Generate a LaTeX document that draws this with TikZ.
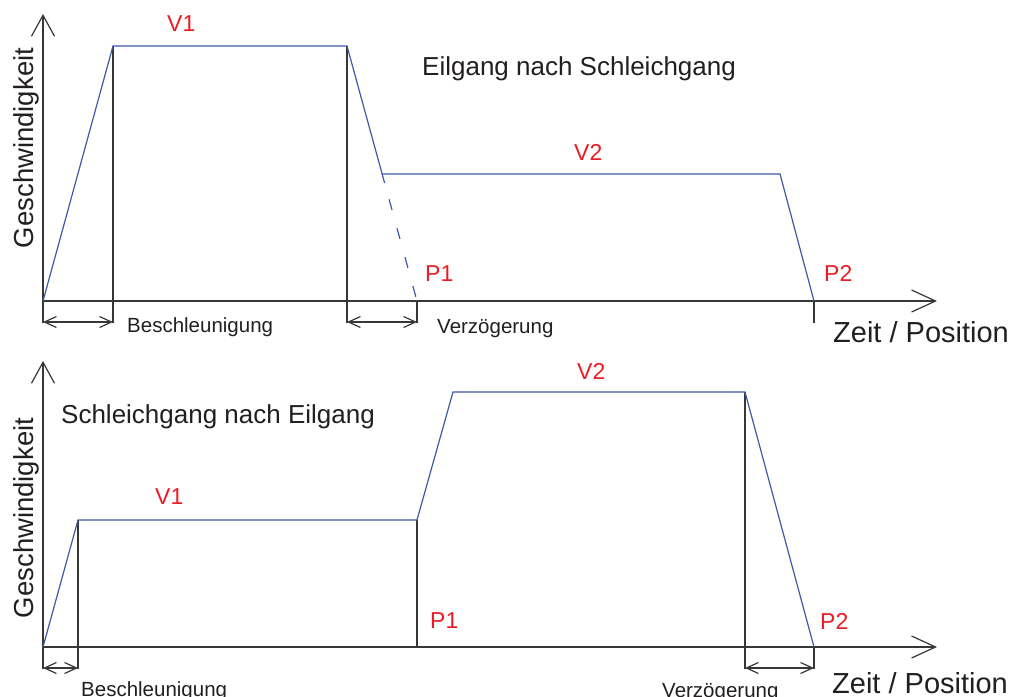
\documentclass[tikz,border=0pt]{standalone}
\usepackage{fontspec}
\setmainfont{Liberation Sans}
\usetikzlibrary{arrows.meta,calc}
\definecolor{curve}{RGB}{62,88,170}
\definecolor{lab}{RGB}{236,28,36}
\definecolor{axisc}{RGB}{55,55,55}
\definecolor{txt}{RGB}{35,31,32}
\tikzset{
  axisline/.style={draw=axisc,line width=1.2pt},
  yaxis/.style={axisline,-{Straight Barb[length=21pt,width=23pt,line width=1.2pt]}},
  xaxis/.style={axisline,-{Straight Barb[length=24pt,width=22pt,line width=1.2pt]}},
  dimarrow/.style={axisline,{Straight Barb[length=12pt,width=11pt,line width=1.2pt]}-{Straight Barb[length=12pt,width=11pt,line width=1.2pt]}},
  profile/.style={draw=curve,line width=1.2pt,line join=miter},
  redlab/.style={text=lab,inner sep=0pt,anchor=base west,font=\fontsize{23}{23}\selectfont},
  smalllab/.style={text=txt,inner sep=0pt,anchor=base west,font=\fontsize{20.5}{20.5}\selectfont},
  titlelab/.style={text=txt,inner sep=0pt,anchor=base west,font=\fontsize{26}{26}\selectfont},
  axislab/.style={text=txt,inner sep=0pt,anchor=base west,font=\fontsize{29}{29}\selectfont},
  ylab/.style={text=txt,inner sep=0pt,anchor=base,rotate=90,font=\fontsize{27.5}{27.5}\selectfont},
}
\begin{document}
\begin{tikzpicture}[x=1pt,y=-1pt]
\useasboundingbox[fill=white] (0,0) rectangle (1011,696);
% ---------------- top diagram ----------------
\coordinate (yb1) at (43,323);
\coordinate (yt1) at (43,14);
\coordinate (o1) at (43,301);
\coordinate (xe1) at (937,301);
\coordinate (a1) at (113,46);
\coordinate (b1) at (347,46);
\coordinate (d1) at (417,301);
\coordinate (s1) at ($(b1)!0.537!(d1)$);
\coordinate (c1) at ($(b1)!0.502!(d1)$);
\coordinate (e1) at (780,174);
\coordinate (f1) at (814,301);
\coordinate (a1b) at (113,323);
\coordinate (b1b) at (347,323);
\coordinate (d1b) at (417,323);
\coordinate (f1b) at (814,323);
\coordinate (m1l) at (43,322);
\coordinate (m1r) at (113,322);
\coordinate (n1l) at (347,322);
\coordinate (n1r) at (417,322);

\draw[yaxis] (yb1) -- (yt1);
\draw[xaxis] (o1) -- (xe1);
\draw[axisline] (a1) -- (a1b);
\draw[axisline] (b1) -- (b1b);
\draw[axisline] (d1) -- (d1b);
\draw[axisline] (f1) -- (f1b);
\draw[dimarrow] (m1l) -- (m1r);
\draw[dimarrow] (n1l) -- (n1r);
\draw[profile] (o1) -- (a1) -- (b1) -- (s1);
\draw[profile,dash pattern=on 11pt off 19pt,dash phase=13pt] (s1) -- (d1);
\draw[profile] (c1) -- (e1) -- (f1);

\node[redlab] (v1t) at (167,31) {V1};
\node[redlab] (v2t) at (574,160) {V2};
\node[redlab] (p1t) at (425,281) {P1};
\node[redlab] (p2t) at (824,281) {P2};
\node[titlelab] (tt) at (422,75) {Eilgang nach Schleichgang};
\node[smalllab] (bt) at (127,332) {Beschleunigung};
\node[smalllab] (vt) at (437,333) {Verzögerung};
\node[axislab] (zt) at (833,342) {Zeit / Position};
\node[ylab] (gt) at (33,148) {Geschwindigkeit};

% ---------------- bottom diagram ----------------
\coordinate (yb2) at (43,669);
\coordinate (yt2) at (43,361);
\coordinate (o2) at (43,647);
\coordinate (xe2) at (937,647);
\coordinate (a2) at (78,520);
\coordinate (b2) at (417,520);
\coordinate (c2) at (453,392);
\coordinate (e2) at (745,392);
\coordinate (f2) at (814,647);
\coordinate (a2b) at (78,669);
\coordinate (b2b) at (417,647);
\coordinate (e2b) at (745,669);
\coordinate (f2b) at (814,669);
\coordinate (m2l) at (43,668);
\coordinate (m2r) at (78,668);
\coordinate (n2l) at (745,668);
\coordinate (n2r) at (814,668);

\draw[yaxis] (yb2) -- (yt2);
\draw[xaxis] (o2) -- (xe2);
\draw[axisline] (a2) -- (a2b);
\draw[axisline] (b2) -- (b2b);
\draw[axisline] (e2) -- (e2b);
\draw[axisline] (f2) -- (f2b);
\draw[dimarrow] (m2l) -- (m2r);
\draw[dimarrow] (n2l) -- (n2r);
\draw[profile] (o2) -- (a2) -- (b2) -- (c2) -- (e2) -- (f2);

\node[redlab] (v1b) at (155,504) {V1};
\node[redlab] (v2b) at (577,379) {V2};
\node[redlab] (p1b) at (430,628) {P1};
\node[redlab] (p2b) at (820,629) {P2};
\node[titlelab] (tb) at (61,423) {Schleichgang nach Eilgang};
\node[smalllab] (bb) at (81,696) {Beschleunigung};
\node[smalllab] (vb) at (662,697) {Verzögerung};
\node[axislab] (zb) at (832,693) {Zeit / Position};
\node[ylab] (gb) at (33,518) {Geschwindigkeit};
\end{tikzpicture}
\end{document}
